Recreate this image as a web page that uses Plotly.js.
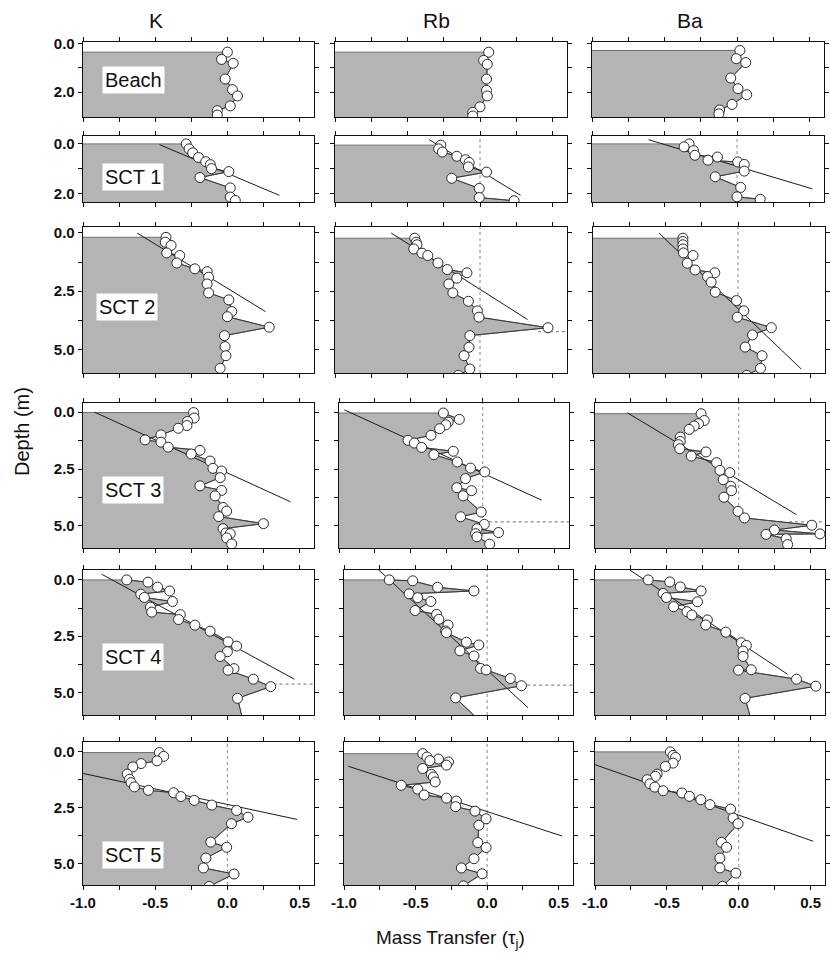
<!DOCTYPE html>
<html>
<head>
<meta charset="utf-8">
<script src="https://cdn.plot.ly/plotly-3.0.1.min.js"></script>
<style>
  html, body { margin: 0; padding: 0; background: #ffffff; }
  #chart { width: 831px; height: 956px; }
</style>
</head>
<body>
<div id="chart"></div>
<script>
// Mass transfer coefficients (tau_j) against depth (m) for K, Rb and Ba
// in the beach profile and five sediment cores (SCT 1-5).

const elementNames = ['K', 'Rb', 'Ba'];
const siteNames = ['Beach', 'SCT 1', 'SCT 2', 'SCT 3', 'SCT 4', 'SCT 5'];

// ---- Beach ----
const depthK_Beach  = [0.35, 0.65, 0.81, 1.46, 1.90, 2.16, 2.57, 2.77, 2.95];
const tauK_Beach    = [0.00, -0.04, 0.04, -0.015, 0.035, 0.07, 0.02, -0.07, -0.07];
const depthRb_Beach = [0.35, 0.69, 0.85, 1.46, 1.93, 2.16, 2.61, 2.84, 2.99];
const tauRb_Beach   = [0.06, 0.025, 0.05, 0.045, 0.045, 0.05, 0.00, -0.05, -0.05];
const depthBa_Beach = [0.28, 0.62, 0.78, 1.42, 1.86, 2.11, 2.51, 2.74, 2.90];
const tauBa_Beach   = [0.02, -0.005, 0.06, -0.043, 0.007, 0.067, -0.034, -0.12, -0.125];

// ---- SCT 1 ----
const depthK_SCT1  = [0.00, 0.20, 0.36, 0.55, 0.72, 0.84, 1.00, 1.12, 1.36, 1.78, 2.15, 2.29];
const tauK_SCT1    = [-0.285, -0.265, -0.24, -0.20, -0.15, -0.118, -0.11, 0.01, -0.19, 0.02, 0.02, 0.055];
const depthRb_SCT1 = [0.05, 0.20, 0.33, 0.50, 0.64, 0.75, 0.93, 1.14, 1.39, 1.80, 2.17, 2.30];
const tauRb_SCT1   = [-0.27, -0.285, -0.26, -0.16, -0.10, -0.075, -0.08, 0.045, -0.195, -0.005, -0.005, 0.235];
const depthBa_SCT1 = [0.00, 0.12, 0.27, 0.46, 0.53, 0.66, 0.73, 0.83, 1.10, 1.33, 1.76, 2.14, 2.24];
const tauBa_SCT1   = [-0.33, -0.365, -0.30, -0.29, -0.135, -0.20, 0.005, 0.05, 0.05, -0.15, 0.025, 0.00, 0.16];

// ---- SCT 2 ----
const depthK_SCT2  = [0.19, 0.40, 0.54, 0.86, 0.97, 1.29, 1.54, 1.66, 1.90, 2.19, 2.57, 2.87, 3.37, 3.59, 4.04, 4.40, 4.87, 5.26, 5.80];
const tauK_SCT2    = [-0.425, -0.43, -0.39, -0.42, -0.33, -0.35, -0.225, -0.14, -0.13, -0.14, -0.13, 0.01, 0.03, 0.00, 0.29, -0.02, -0.016, -0.01, -0.05];
const depthRb_SCT2 = [0.23, 0.40, 0.51, 0.69, 0.87, 0.97, 1.29, 1.57, 1.71, 1.94, 2.19, 2.57, 2.93, 3.34, 3.61, 4.06, 4.40, 4.90, 5.26, 5.83, 6.10];
const tauRb_SCT2   = [-0.45, -0.44, -0.435, -0.457, -0.40, -0.36, -0.29, -0.226, -0.09, -0.16, -0.215, -0.187, -0.08, -0.018, -0.007, 0.469, -0.07, -0.076, -0.11, -0.07, -0.15];
const depthBa_SCT2 = [0.23, 0.37, 0.51, 0.69, 0.86, 0.97, 1.30, 1.59, 1.71, 1.87, 2.11, 2.54, 2.90, 3.34, 3.61, 4.06, 4.37, 4.89, 5.26, 5.80, 6.10];
const tauBa_SCT2   = [-0.38, -0.38, -0.38, -0.38, -0.376, -0.31, -0.35, -0.296, -0.16, -0.21, -0.185, -0.157, -0.01, 0.04, -0.005, 0.23, 0.10, 0.05, 0.166, 0.155, 0.06];

// ---- SCT 3 ----
const depthK_SCT3  = [0.02, 0.26, 0.41, 0.59, 0.71, 1.00, 1.22, 1.32, 1.54, 1.68, 1.84, 2.15, 2.47, 2.59, 2.88, 3.24, 3.44, 3.68, 4.19, 4.35, 4.59, 4.90, 5.12, 5.31, 5.34, 5.53, 5.79];
const tauK_SCT3    = [-0.234, -0.23, -0.276, -0.28, -0.34, -0.46, -0.57, -0.46, -0.41, -0.19, -0.25, -0.12, -0.10, -0.04, -0.05, -0.19, -0.04, -0.085, -0.03, -0.005, -0.06, 0.25, -0.03, -0.01, 0.02, -0.005, 0.03];
const depthRb_SCT3 = [0.04, 0.32, 0.44, 0.56, 0.73, 1.02, 1.24, 1.36, 1.55, 1.72, 1.87, 2.19, 2.46, 2.63, 2.92, 3.32, 3.45, 3.68, 4.39, 4.60, 4.93, 5.12, 5.29, 5.34, 5.48, 5.80];
const tauRb_SCT3   = [-0.274, -0.163, -0.24, -0.257, -0.30, -0.36, -0.52, -0.476, -0.425, -0.205, -0.34, -0.177, -0.085, 0.014, -0.12, -0.18, -0.078, -0.136, -0.011, -0.154, 0.011, -0.04, 0.11, -0.05, -0.04, 0.048];
const depthBa_SCT3 = [0.07, 0.37, 0.51, 0.61, 0.76, 1.10, 1.29, 1.43, 1.61, 1.75, 1.93, 2.22, 2.56, 2.66, 2.97, 3.26, 3.45, 3.74, 4.36, 4.65, 4.97, 5.18, 5.35, 5.37, 5.56, 5.82];
const tauBa_SCT3   = [-0.262, -0.24, -0.28, -0.31, -0.345, -0.407, -0.407, -0.42, -0.41, -0.228, -0.33, -0.154, -0.131, -0.062, -0.108, -0.055, -0.05, -0.103, -0.005, 0.04, 0.508, 0.248, 0.565, 0.19, 0.33, 0.34];

// ---- SCT 4 ----
const depthK_SCT4  = [0.00, 0.10, 0.32, 0.49, 0.63, 0.78, 0.96, 1.21, 1.43, 1.54, 1.76, 2.01, 2.28, 2.75, 2.94, 3.19, 3.40, 3.94, 4.01, 4.41, 4.74, 5.26, 6.30];
const tauK_SCT4    = [-0.697, -0.55, -0.483, -0.40, -0.60, -0.575, -0.38, -0.533, -0.524, -0.326, -0.338, -0.225, -0.12, 0.005, 0.064, 0.00, -0.05, 0.046, 0.005, 0.18, 0.30, 0.07, 0.11];
const depthRb_SCT4 = [0.00, 0.04, 0.33, 0.49, 0.62, 0.79, 0.96, 1.36, 1.53, 1.75, 2.00, 2.27, 2.34, 2.77, 2.89, 3.15, 3.38, 3.93, 4.00, 4.38, 4.70, 5.24, 6.30];
const tauRb_SCT4   = [-0.684, -0.52, -0.346, -0.092, -0.545, -0.485, -0.393, -0.503, -0.353, -0.337, -0.273, -0.29, -0.284, -0.145, -0.058, -0.19, -0.092, -0.046, -0.007, 0.162, 0.24, -0.22, -0.045];
const depthBa_SCT4 = [0.00, 0.09, 0.31, 0.49, 0.60, 0.78, 0.97, 1.19, 1.41, 1.56, 1.78, 2.00, 2.32, 2.79, 2.91, 3.16, 3.40, 3.99, 4.01, 4.41, 4.72, 5.26, 6.30];
const tauBa_SCT4   = [-0.63, -0.48, -0.407, -0.262, -0.526, -0.503, -0.287, -0.453, -0.36, -0.326, -0.218, -0.23, -0.09, 0.018, 0.053, 0.03, 0.03, 0.087, -0.002, 0.402, 0.536, 0.044, 0.09];

// ---- SCT 5 ----
const depthK_SCT5  = [0.05, 0.22, 0.42, 0.54, 0.69, 1.01, 1.24, 1.39, 1.58, 1.73, 1.84, 2.01, 2.18, 2.39, 2.63, 2.93, 3.22, 4.04, 4.27, 4.75, 5.19, 5.46, 6.01];
const tauK_SCT5    = [-0.471, -0.441, -0.487, -0.598, -0.655, -0.694, -0.678, -0.667, -0.644, -0.547, -0.372, -0.322, -0.23, -0.108, 0.064, 0.143, 0.028, -0.115, -0.005, -0.149, -0.166, 0.046, -0.126];
const depthRb_SCT5 = [0.10, 0.25, 0.34, 0.41, 0.47, 0.61, 0.76, 1.02, 1.14, 1.36, 1.51, 1.68, 1.94, 2.08, 2.21, 2.46, 2.66, 3.00, 3.29, 4.06, 4.28, 4.78, 5.19, 5.45, 5.99];
const tauRb_SCT5   = [-0.45, -0.42, -0.34, -0.40, -0.27, -0.284, -0.45, -0.39, -0.376, -0.363, -0.60, -0.485, -0.44, -0.284, -0.215, -0.22, -0.085, -0.007, -0.058, -0.065, -0.007, -0.092, -0.18, -0.035, -0.166];
const depthBa_SCT5 = [0.02, 0.18, 0.27, 0.52, 0.67, 1.01, 1.11, 1.26, 1.44, 1.59, 1.75, 1.85, 2.00, 2.15, 2.37, 2.57, 2.97, 3.22, 4.05, 4.27, 4.75, 5.19, 5.42, 6.01];
const tauBa_SCT5   = [-0.476, -0.457, -0.44, -0.457, -0.51, -0.568, -0.58, -0.637, -0.618, -0.584, -0.526, -0.395, -0.343, -0.264, -0.20, -0.057, -0.039, -0.005, -0.12, -0.085, -0.131, -0.131, -0.02, -0.113];

// ---- Linear trends (tau at the two ends, depth at the two ends) ----
const fitTauK_SCT1  = [-0.47, 0.36];   const fitDepthK_SCT1  = [0.03, 2.08];
const fitTauRb_SCT1 = [-0.35, 0.28];   const fitDepthRb_SCT1 = [-0.17, 2.08];
const fitTauBa_SCT1 = [-0.61, 0.52];   const fitDepthBa_SCT1 = [-0.17, 1.82];
const fitTauK_SCT2  = [-0.625, 0.264]; const fitDepthK_SCT2  = [0.01, 3.37];
const fitTauRb_SCT2 = [-0.612, 0.328]; const fitDepthRb_SCT2 = [0.01, 3.71];
const fitTauBa_SCT2 = [-0.545, 0.436]; const fitDepthBa_SCT2 = [0.01, 5.83];
const fitTauK_SCT3  = [-0.92, 0.437];  const fitDepthK_SCT3  = [0.00, 3.94];
const fitTauRb_SCT3 = [-0.963, 0.41];  const fitDepthRb_SCT3 = [-0.10, 3.87];
const fitTauBa_SCT3 = [-0.775, 0.40];  const fitDepthBa_SCT3 = [0.03, 4.50];
const fitTauK_SCT4  = [-0.87, 0.464];  const fitDepthK_SCT4  = [-0.25, 4.41];
const fitTauRb_SCT4 = [-0.762, 0.286]; const fitDepthRb_SCT4 = [-0.47, 5.68];
const fitTauBa_SCT4 = [-0.756, 0.34];  const fitDepthBa_SCT4 = [-0.43, 4.19];
const fitTauK_SCT5  = [-1.0, 0.483];   const fitDepthK_SCT5  = [0.98, 3.03];
const fitTauRb_SCT5 = [-0.97, 0.524];  const fitDepthRb_SCT5 = [0.66, 3.77];
const fitTauBa_SCT5 = [-1.0, 0.517];   const fitDepthBa_SCT5 = [0.59, 4.00];

// ---- Reference lines: tau = 0 (row, column) and dotted depth levels ----
const zeroRefRow = [1, 1, 2, 2, 3, 3, 4, 5, 5, 5];
const zeroRefCol = [1, 2, 1, 2, 1, 2, 1, 0, 1, 2];
const levelRow   = [2, 3, 3, 4, 4];
const levelCol   = [1, 1, 2, 0, 1];
const levelDepth = [4.23, 4.82, 4.82, 4.63, 4.67];
const levelFrom  = [0.40, 0.00, 0.35, 0.32, 0.28];

// ---- Axis ticks ----
const xTickVals = [-1.0, -0.5, 0.0, 0.5];
const xMinorVals = [-0.75, -0.25, 0.25];
const yTickShort = [0.0, 2.0];   const yMinorShort = [1.0];
const yTickLong  = [0.0, 2.5, 5.0]; const yMinorLong = [1.25, 3.75];

// ---- Assemble panels from the arrays above ----
const profiles = [
  [[depthK_Beach, tauK_Beach], [depthRb_Beach, tauRb_Beach], [depthBa_Beach, tauBa_Beach]],
  [[depthK_SCT1, tauK_SCT1], [depthRb_SCT1, tauRb_SCT1], [depthBa_SCT1, tauBa_SCT1]],
  [[depthK_SCT2, tauK_SCT2], [depthRb_SCT2, tauRb_SCT2], [depthBa_SCT2, tauBa_SCT2]],
  [[depthK_SCT3, tauK_SCT3], [depthRb_SCT3, tauRb_SCT3], [depthBa_SCT3, tauBa_SCT3]],
  [[depthK_SCT4, tauK_SCT4], [depthRb_SCT4, tauRb_SCT4], [depthBa_SCT4, tauBa_SCT4]],
  [[depthK_SCT5, tauK_SCT5], [depthRb_SCT5, tauRb_SCT5], [depthBa_SCT5, tauBa_SCT5]]
];
const fits = [
  [null, null, null],
  [[fitTauK_SCT1, fitDepthK_SCT1], [fitTauRb_SCT1, fitDepthRb_SCT1], [fitTauBa_SCT1, fitDepthBa_SCT1]],
  [[fitTauK_SCT2, fitDepthK_SCT2], [fitTauRb_SCT2, fitDepthRb_SCT2], [fitTauBa_SCT2, fitDepthBa_SCT2]],
  [[fitTauK_SCT3, fitDepthK_SCT3], [fitTauRb_SCT3, fitDepthRb_SCT3], [fitTauBa_SCT3, fitDepthBa_SCT3]],
  [[fitTauK_SCT4, fitDepthK_SCT4], [fitTauRb_SCT4, fitDepthRb_SCT4], [fitTauBa_SCT4, fitDepthBa_SCT4]],
  [[fitTauK_SCT5, fitDepthK_SCT5], [fitTauRb_SCT5, fitDepthRb_SCT5], [fitTauBa_SCT5, fitDepthBa_SCT5]]
];

// ---- Page geometry (pixels) ----
const W = 831, H = 956;
const rowPx = [[42, 117], [136, 202], [227, 373], [403, 548], [570, 715], [742, 885]];
const colPx = [
  [[83, 314], [83, 314], [83, 314], [83, 314], [83, 314], [83, 314]],
  [[335, 567], [335, 567], [335, 567], [339, 569], [344, 573], [344, 573]],
  [[592, 824], [592, 824], [593, 825], [595, 825], [595, 825], [595, 825]]
];
const xRange = [-1.0, 0.6];
const yRanges = [[3.03, -0.07], [2.35, -0.32], [6.0, -0.25], [5.97, -0.40], [6.0, -0.44], [5.95, -0.42]];

const FONT = 'Liberation Sans, Arial, Helvetica, sans-serif';
const AXIS_COLOR = '#111111';
const FILL_COLOR = '#b4b4b4';

const traces = [];
const shapes = [];
const layout = {
  width: W, height: H,
  margin: { l: 0, r: 0, t: 0, b: 0 },
  paper_bgcolor: '#ffffff',
  plot_bgcolor: '#ffffff',
  showlegend: false,
  hovermode: false,
  annotations: []
};

const tickFont = { family: FONT, size: 15, color: '#111111', weight: 'bold' };

for (let r = 0; r < 6; r++) {
  for (let c = 0; c < 3; c++) {
    const k = r * 3 + c;
    const sfx = k === 0 ? '' : String(k + 1);
    const xName = 'x' + sfx, yName = 'y' + sfx;
    const [x0, x1] = colPx[c][r];
    const [top, bottom] = rowPx[r];
    const yr = yRanges[r];
    const shortRow = r < 2;

    layout['xaxis' + sfx] = {
      domain: [x0 / W, x1 / W],
      anchor: yName,
      range: xRange.slice(),
      fixedrange: true,
      showgrid: false, zeroline: false,
      showline: true, linecolor: AXIS_COLOR, linewidth: 1.3, mirror: 'ticks',
      ticks: 'outside', ticklen: 4, tickwidth: 1, tickcolor: AXIS_COLOR,
      tickmode: 'array',
      tickvals: xTickVals,
      ticktext: xTickVals.map(v => v.toFixed(1)),
      showticklabels: r === 5,
      tickfont: tickFont,
      minor: { tickvals: xMinorVals, ticks: 'outside', ticklen: 4, tickwidth: 1, tickcolor: AXIS_COLOR, showgrid: false }
    };
    const yt = shortRow ? yTickShort : yTickLong;
    layout['yaxis' + sfx] = {
      domain: [1 - bottom / H, 1 - top / H],
      anchor: xName,
      range: yr.slice(),
      fixedrange: true,
      showgrid: false, zeroline: false,
      showline: true, linecolor: AXIS_COLOR, linewidth: 1.3, mirror: 'ticks',
      ticks: 'outside', ticklen: 4, tickwidth: 1, tickcolor: AXIS_COLOR,
      tickmode: 'array',
      tickvals: yt,
      ticktext: yt.map(v => v.toFixed(1)),
      showticklabels: c === 0,
      tickfont: tickFont,
      minor: { tickvals: shortRow ? yMinorShort : yMinorLong, ticks: 'outside', ticklen: 4, tickwidth: 1, tickcolor: AXIS_COLOR, showgrid: false }
    };

    const [depth, tau] = profiles[r][c];
    const n = depth.length;
    const below = yr[0] + 1;

    // shaded area between the left edge and the profile
    traces.push({
      type: 'scatter', mode: 'lines',
      x: [xRange[0]].concat(tau, [tau[n - 1], xRange[0]]),
      y: [depth[0]].concat(depth, [below, below]),
      xaxis: xName, yaxis: yName,
      fill: 'toself', fillcolor: FILL_COLOR,
      line: { color: '#6e6e6e', width: 1 },
      hoverinfo: 'skip'
    });

    // linear trend
    const f = fits[r][c];
    if (f) {
      traces.push({
        type: 'scatter', mode: 'lines',
        x: f[0], y: f[1],
        xaxis: xName, yaxis: yName,
        line: { color: '#1a1a1a', width: 1 },
        hoverinfo: 'skip'
      });
    }

    // measured profile
    traces.push({
      type: 'scatter', mode: 'lines+markers',
      x: tau, y: depth,
      xaxis: xName, yaxis: yName,
      line: { color: '#3a3a3a', width: 1 },
      marker: { symbol: 'circle', size: 10, color: '#ffffff', line: { color: '#2a2a2a', width: 1 } },
      hoverinfo: 'skip'
    });
  }
}

// dotted reference at tau = 0
for (let i = 0; i < zeroRefRow.length; i++) {
  const k = zeroRefRow[i] * 3 + zeroRefCol[i];
  const sfx = k === 0 ? '' : String(k + 1);
  shapes.push({
    type: 'line', layer: 'below',
    xref: 'x' + sfx, yref: 'y' + sfx + ' domain',
    x0: 0, x1: 0, y0: 0, y1: 1,
    line: { color: '#8a8a8a', width: 1, dash: 'dot' }
  });
}
// dotted depth levels
for (let i = 0; i < levelRow.length; i++) {
  const k = levelRow[i] * 3 + levelCol[i];
  const sfx = k === 0 ? '' : String(k + 1);
  shapes.push({
    type: 'line', layer: 'below',
    xref: 'x' + sfx, yref: 'y' + sfx,
    x0: levelFrom[i], x1: xRange[1], y0: levelDepth[i], y1: levelDepth[i],
    line: { color: '#8a8a8a', width: 1.2, dash: 'dot' }
  });
}
layout.shapes = shapes;

// column headers
const headerX = [156, 437, 690];
elementNames.forEach((name, i) => {
  layout.annotations.push({
    xref: 'paper', yref: 'paper', x: headerX[i] / W, y: 1 - 20 / H,
    text: name, showarrow: false, xanchor: 'center', yanchor: 'middle',
    font: { family: FONT, size: 21, color: '#111111' }
  });
});

// site labels
const labelPos = [[133, 80], [133, 177], [127, 307], [133, 490], [133, 657], [133, 855]];
siteNames.forEach((name, i) => {
  layout.annotations.push({
    xref: 'paper', yref: 'paper', x: labelPos[i][0] / W, y: 1 - labelPos[i][1] / H,
    text: name, showarrow: false, xanchor: 'center', yanchor: 'middle',
    bgcolor: '#ffffff', borderpad: 2,
    font: { family: FONT, size: 20, color: '#111111' }
  });
});

// axis titles
layout.annotations.push({
  xref: 'paper', yref: 'paper', x: 22 / W, y: 1 - 432 / H,
  text: 'Depth (m)', showarrow: false, textangle: -90,
  xanchor: 'center', yanchor: 'middle',
  font: { family: FONT, size: 20, color: '#111111' }
});
layout.annotations.push({
  xref: 'paper', yref: 'paper', x: 450 / W, y: 1 - 939 / H,
  text: 'Mass Transfer (τ<sub>j</sub>)', showarrow: false,
  xanchor: 'center', yanchor: 'middle',
  font: { family: FONT, size: 19, color: '#111111' }
});

Plotly.newPlot('chart', traces, layout, { staticPlot: true, displayModeBar: false });
</script>
</body>
</html>
